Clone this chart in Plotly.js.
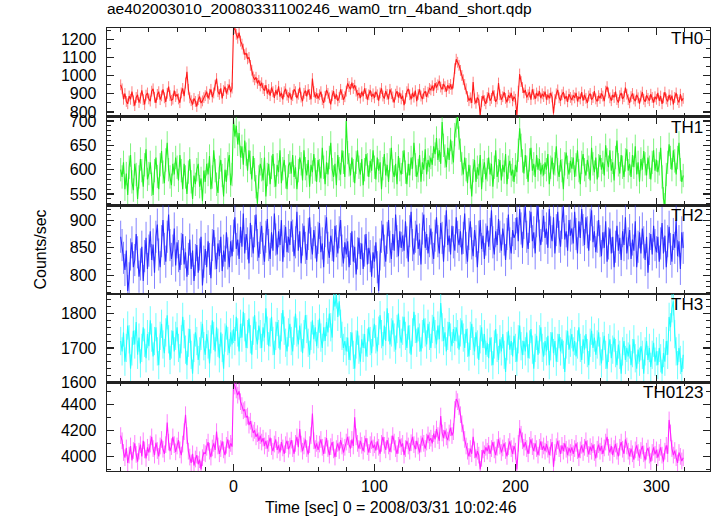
<!DOCTYPE html>
<html><head><meta charset="utf-8">
<script src="https://cdn.plot.ly/plotly-3.0.1.min.js"></script>
<style>html,body{margin:0;padding:0;background:#fff}</style>
</head><body><div id="chart" style="width:717px;height:516px"></div>
<script>
const timeSec = [
-80,-79,-78,-77,-76,-75,-74,-73,-72,-71,-70,-69,-68,-67,-66,-65,-64,-63,-62,-61,
-60,-59,-58,-57,-56,-55,-54,-53,-52,-51,-50,-49,-48,-47,-46,-45,-44,-43,-42,-41,
-40,-39,-38,-37,-36,-35,-34,-33,-32,-31,-30,-29,-28,-27,-26,-25,-24,-23,-22,-21,
-20,-19,-18,-17,-16,-15,-14,-13,-12,-11,-10,-9,-8,-7,-6,-5,-4,-3,-2,-1,
0,1,2,3,4,5,6,7,8,9,10,11,12,13,14,15,16,17,18,19,
20,21,22,23,24,25,26,27,28,29,30,31,32,33,34,35,36,37,38,39,
40,41,42,43,44,45,46,47,48,49,50,51,52,53,54,55,56,57,58,59,
60,61,62,63,64,65,66,67,68,69,70,71,72,73,74,75,76,77,78,79,
80,81,82,83,84,85,86,87,88,89,90,91,92,93,94,95,96,97,98,99,
100,101,102,103,104,105,106,107,108,109,110,111,112,113,114,115,116,117,118,119,
120,121,122,123,124,125,126,127,128,129,130,131,132,133,134,135,136,137,138,139,
140,141,142,143,144,145,146,147,148,149,150,151,152,153,154,155,156,157,158,159,
160,161,162,163,164,165,166,167,168,169,170,171,172,173,174,175,176,177,178,179,
180,181,182,183,184,185,186,187,188,189,190,191,192,193,194,195,196,197,198,199,
200,201,202,203,204,205,206,207,208,209,210,211,212,213,214,215,216,217,218,219,
220,221,222,223,224,225,226,227,228,229,230,231,232,233,234,235,236,237,238,239,
240,241,242,243,244,245,246,247,248,249,250,251,252,253,254,255,256,257,258,259,
260,261,262,263,264,265,266,267,268,269,270,271,272,273,274,275,276,277,278,279,
280,281,282,283,284,285,286,287,288,289,290,291,292,293,294,295,296,297,298,299,
300,301,302,303,304,305,306,307,308,309,310,311,312,313,314,315,316,317,318,319];

const th0 = [
950,928,870,902,858,845,888,870,912,861,835,880,895,852,876,920,868,841,893,905,
872,860,915,928,881,850,897,912,868,889,925,878,856,903,940,890,864,871,918,885,
898,872,851,905,930,887,960,1022,925,878,862,840,875,858,830,868,885,849,861,879,
890,912,875,898,925,882,905,948,985,912,897,930,875,918,940,902,925,951,910,932,
1255,1262,1230,1208,1240,1192,1176,1148,1118,1126,1094,1102,1058,1031,994,978,992,958,975,944,
962,930,918,948,901,925,890,935,912,878,920,896,942,885,906,870,912,928,893,880,
905,868,890,925,912,876,898,935,882,860,903,918,886,924,897,870,985,912,880,902,
874,895,912,868,850,886,921,903,878,842,890,915,872,897,861,880,925,896,868,884,
915,958,940,925,962,930,948,915,892,905,876,912,887,930,902,868,895,920,884,900,
878,912,895,862,905,930,888,874,916,897,870,925,901,883,852,898,915,880,906,872,
890,838,875,912,928,895,870,905,882,918,860,897,925,888,871,902,915,883,909,930,
922,945,918,960,935,950,972,938,925,955,940,912,948,930,952,925,960,1040,1092,1075,
1058,1030,1002,978,952,928,885,862,878,850,965,872,848,880,866,782,858,890,862,845,
880,905,862,875,918,890,856,872,960,895,868,884,910,875,853,892,878,905,861,884,
870,782,915,1010,968,935,905,922,880,895,910,868,925,898,872,905,888,915,876,900,
885,912,868,895,875,905,882,792,868,900,922,878,862,895,910,872,888,856,898,880,
866,892,878,905,858,884,872,910,862,895,875,850,888,902,868,880,915,872,858,890,
875,902,888,860,915,940,905,878,862,895,880,912,868,852,890,905,872,885,935,898,
868,850,885,902,872,860,895,878,846,888,910,870,856,892,875,862,898,880,852,884,
870,905,862,888,845,878,910,872,858,895,866,890,842,880,905,868,852,898,860,875];

const th1 = [
600,585,615,560,592,548,605,630,575,558,612,590,540,585,622,598,565,610,642,580,
592,615,570,548,598,625,586,560,610,638,595,572,620,655,600,585,568,612,590,625,
605,578,630,598,560,612,585,550,595,622,575,540,588,570,600,612,565,582,535,598,
575,612,590,628,560,585,640,598,570,552,605,620,588,545,600,575,612,630,568,590,
705,668,690,652,675,625,648,610,660,632,598,640,615,580,628,600,565,530,585,612,
600,578,625,545,590,612,570,605,632,588,565,610,595,640,572,602,620,585,560,608,
615,592,630,585,605,560,598,625,612,578,640,602,588,620,565,610,595,632,600,575,
620,598,582,645,605,570,615,590,625,655,600,585,612,568,630,602,590,640,615,585,
700,635,610,588,625,598,572,615,640,605,590,622,568,600,632,610,585,618,598,640,
605,580,625,598,615,560,602,632,588,610,575,620,645,598,585,612,570,628,600,590,
615,640,595,570,612,588,625,602,655,610,585,598,630,575,615,600,642,590,620,605,
625,610,648,632,665,620,640,612,698,650,628,605,645,620,662,635,615,672,690,708,
665,640,612,590,625,600,572,610,585,545,598,620,575,605,588,630,560,598,615,580,
600,625,590,612,565,605,640,585,598,620,578,610,595,632,570,605,618,588,600,575,
610,595,640,685,650,618,592,630,605,575,620,645,598,612,585,630,600,622,590,610,
588,615,600,632,570,605,625,590,612,648,600,585,620,598,560,612,635,605,590,618,
602,625,585,610,640,598,570,615,632,600,588,620,605,578,645,612,595,625,580,608,
630,600,615,588,650,620,605,640,598,615,578,625,660,610,592,630,605,585,620,642,
598,612,585,630,605,648,590,615,575,622,600,638,612,588,625,605,580,615,640,598,
620,595,612,645,585,540,528,590,615,652,625,600,640,618,590,625,655,600,575,588];

const th2 = [
870,855,832,810,845,772,795,838,860,815,828,875,842,798,820,852,790,835,868,812,
845,880,828,856,805,870,892,838,815,862,900,848,825,870,910,855,830,845,885,818,
860,835,810,848,875,820,842,798,830,865,812,845,790,828,855,805,838,870,782,825,
848,815,862,830,795,855,882,840,812,858,835,870,808,845,825,878,840,815,862,835,
872,905,848,865,830,888,852,912,840,875,858,822,895,862,840,880,910,855,832,868,
890,848,825,870,902,855,830,878,845,912,865,838,880,855,900,825,862,888,842,870,
855,898,872,835,860,915,845,880,822,865,890,850,828,875,905,858,838,882,860,825,
868,895,842,858,815,880,905,850,832,872,855,825,890,862,840,878,900,845,822,860,
838,862,815,848,880,825,852,802,840,868,830,858,812,845,875,820,850,835,798,842,
825,860,815,772,838,870,892,845,825,868,900,852,830,875,845,910,862,835,880,850,
872,845,898,860,825,880,915,855,838,870,892,848,865,820,885,910,850,875,840,862,
885,850,830,872,905,862,840,895,868,825,880,918,855,872,838,890,860,845,905,870,
855,880,838,868,912,850,825,875,898,858,835,882,862,815,870,900,848,872,830,865,
890,852,875,918,860,838,880,855,902,870,845,885,865,828,875,910,858,840,882,868,
875,905,862,920,885,850,895,925,870,848,888,915,862,878,840,898,925,872,855,890,
908,868,885,850,920,878,862,905,840,882,915,870,852,895,925,865,880,845,900,872,
885,858,915,875,840,898,868,920,882,855,905,878,845,892,918,860,880,842,870,900,
862,835,878,850,898,825,858,885,840,870,815,852,890,845,868,828,880,855,905,840,
858,882,830,865,845,898,815,852,878,840,885,860,828,870,805,848,875,838,890,855,
842,870,825,858,895,840,872,815,862,888,848,825,875,850,900,835,862,812,878,850];

const th3 = [
1720,1690,1745,1660,1700,1765,1725,1640,1690,1750,1710,1775,1680,1730,1655,1700,1760,1715,1670,1740,
1705,1780,1730,1675,1720,1760,1690,1650,1735,1770,1710,1685,1745,1795,1725,1665,1710,1750,1690,1735,
1760,1700,1670,1725,1790,1740,1695,1650,1715,1755,1680,1625,1700,1745,1720,1665,1690,1735,1770,1705,
1680,1740,1710,1655,1725,1780,1735,1690,1760,1715,1670,1745,1700,1640,1730,1765,1720,1685,1745,1710,
1755,1720,1790,1745,1690,1770,1730,1805,1760,1700,1740,1785,1725,1680,1750,1795,1735,1710,1765,1740,
1700,1760,1730,1815,1750,1705,1745,1790,1720,1680,1735,1775,1740,1695,1760,1810,1750,1715,1690,1745,
1770,1720,1690,1750,1800,1745,1710,1765,1730,1685,1740,1795,1755,1715,1680,1735,1780,1725,1760,1705,
1740,1785,1730,1700,1760,1720,1775,1745,1800,1760,1730,1850,1820,1855,1790,1835,1770,1735,1700,1720,
1690,1730,1665,1705,1745,1680,1640,1710,1750,1695,1660,1725,1700,1740,1675,1715,1760,1720,1685,1745,
1770,1725,1690,1750,1795,1740,1705,1765,1720,1815,1760,1710,1745,1780,1730,1695,1755,1800,1740,1715,
1750,1790,1735,1700,1765,1725,1680,1745,1805,1755,1715,1760,1730,1690,1740,1785,1745,1710,1770,1735,
1700,1755,1790,1740,1710,1765,1725,1830,1760,1720,1745,1690,1735,1775,1730,1705,1755,1720,1760,1740,
1695,1745,1780,1730,1700,1755,1715,1675,1735,1770,1720,1690,1745,1710,1665,1725,1760,1700,1740,1680,
1715,1670,1730,1690,1650,1710,1755,1700,1665,1725,1690,1740,1680,1630,1705,1750,1695,1720,1675,1735,
1700,1660,1725,1765,1705,1680,1720,1690,1745,1670,1710,1755,1695,1640,1700,1735,1680,1725,1760,1700,
1675,1720,1690,1735,1650,1705,1745,1685,1720,1660,1700,1740,1690,1725,1680,1630,1710,1750,1695,1715,
1740,1690,1720,1675,1710,1760,1700,1665,1725,1695,1740,1685,1650,1715,1750,1700,1730,1680,1710,1745,
1690,1655,1705,1735,1680,1640,1700,1725,1670,1695,1730,1685,1650,1710,1680,1625,1690,1720,1665,1700,
1675,1710,1650,1685,1725,1670,1640,1695,1660,1705,1680,1625,1690,1720,1665,1700,1645,1680,1715,1660,
1690,1650,1700,1670,1625,1685,1660,1720,1680,1790,1760,1815,1835,1740,1690,1650,1700,1665,1630,1680];

const th0123 = [
4160,4120,4030,3990,4065,3950,4010,4080,3970,4045,4100,4015,3960,4040,4090,4000,4120,4050,3985,4070,
4030,4095,4150,4060,4010,4105,4045,4000,4080,4130,4055,4020,4090,4260,4110,4040,4075,4150,4090,4035,
4080,4125,4050,4010,4095,4190,4320,4160,4040,3995,3950,4020,3930,3980,4010,3940,3975,3900,3990,4030,
4020,4070,4110,4040,3995,4065,4100,4050,4190,4080,4020,4060,4115,4050,4010,4085,4130,4060,4100,4075,
4565,4540,4510,4470,4500,4420,4390,4350,4360,4300,4310,4240,4270,4210,4180,4200,4150,4175,4120,4160,
4110,4140,4080,4120,4060,4100,4145,4075,4040,4095,4130,4050,4085,4030,4110,4065,4020,4090,4120,4055,
4080,4125,4060,4020,4100,4150,4070,4210,4095,4040,4080,4130,4060,4015,4090,4160,4330,4120,4060,4100,
4050,4095,4130,4070,4020,4085,4140,4060,4010,4075,4110,4050,3995,4060,4100,4045,4125,4080,4030,4070,
4110,4150,4090,4060,4130,4080,4300,4150,4100,4060,4120,4085,4040,4095,4140,4075,4030,4090,4120,4065,
4090,4045,4115,4070,4020,4100,4150,4085,4050,4125,4080,4035,4095,4160,4110,4060,4020,4085,4130,4075,
4100,4010,4060,4120,4080,4040,4105,4150,4090,4055,4120,4080,4030,4095,4145,4100,4060,4110,4165,4120,
4140,4100,4175,4130,4210,4160,4120,4310,4180,4140,4200,4150,4125,4180,4220,4160,4190,4360,4440,4420,
4380,4320,4250,4180,4130,4080,4040,4000,4060,4020,4150,4050,3990,4040,4010,3900,3985,4050,4020,4070,
4040,4085,4020,4060,4110,4050,4010,4070,4130,4080,4030,4065,4100,4045,4000,4075,4115,4060,4020,4080,
4040,3900,4100,4215,4170,4120,4070,4110,4060,4020,4085,4130,4075,4040,4100,4060,4010,4070,4115,4050,
4080,4040,4095,4055,4010,4070,4110,3920,4030,4075,4120,4060,4020,4085,4040,4100,4055,4010,4065,4030,
4070,4020,4060,4100,4045,3990,4050,4085,4030,4070,4120,4060,4015,4075,4040,4090,4030,3985,4055,4090,
4040,4080,4020,4065,4110,4150,4070,4030,4080,4010,4060,4095,4040,4000,4070,4110,4055,4020,4130,4080,
4040,4000,4060,4020,3975,4050,4085,4030,3990,4045,4080,4020,3970,4040,4065,4010,3960,4030,4070,4015,
4050,3990,4030,4070,4010,3960,4040,4085,4020,4280,4180,4060,4010,4045,3990,3950,4030,4000,3965,3990];

const bandNames = ['TH0', 'TH1', 'TH2', 'TH3', 'TH0123'];
const bandErrors = [30, 24, 29, 41, 64];
const xTickVals = [0, 100, 200, 300];
const xTickText = ['0', '100', '200', '300'];
const titleText = 'ae402003010_20080331100246_wam0_trn_4band_short.qdp';
const xTitleText = 'Time [sec] 0 = 2008/03/31 10:02:46';
const yTitleText = 'Counts/sec';

const series = [th0, th1, th2, th3, th0123];
const lineColors = ['#ff1a1a', '#22ee22', '#2a2aff', '#22ffff', '#ff22ff'];
const errColors = ['rgba(255,40,40,0.6)', 'rgba(40,235,40,0.6)', 'rgba(50,50,255,0.6)', 'rgba(30,255,255,0.65)', 'rgba(255,40,255,0.6)'];
const yRanges = [[774, 1265], [527, 709], [767, 927], [1600, 1857], [3888, 4568]];
const yDticks = [100, 50, 50, 100, 200];
const yMinor = [50, 10, 10, 20, 100];

const FONT = '"Liberation Sans", Arial, Helvetica, sans-serif';
const n = series.length;
const traces = [];
const layout = {
  width: 717, height: 516,
  margin: {l: 107, r: 7, t: 28, b: 45, pad: 0},
  paper_bgcolor: '#fff', plot_bgcolor: '#fff',
  showlegend: false,
  font: {family: FONT, size: 16, color: '#000'},
  title: {text: titleText, x: 107/717, xanchor: 'left', xref: 'container', y: 1, yref: 'container', yanchor: 'top', pad: {t: 3}, font: {family: FONT, size: 15.5, color: '#000'}},
  annotations: []
};
for (let k = 0; k < n; k++) {
  const sfx = k === 0 ? '' : String(k + 1);
  traces.push({
    x: timeSec, y: series[k], xaxis: 'x' + sfx, yaxis: 'y' + sfx,
    type: 'scatter', mode: 'lines',
    line: {color: lineColors[k], width: 1.1},
    error_y: {type: 'constant', value: bandErrors[k], color: errColors[k], thickness: 1, width: 0},
    hoverinfo: 'skip'
  });
  const top = 1 - k / n, bot = 1 - (k + 1) / n;
  layout['xaxis' + sfx] = {
    domain: [0, 1], anchor: 'y' + sfx, range: [-89.7, 338],
    matches: k === 0 ? undefined : 'x',
    showline: true, linecolor: '#222', linewidth: 1.3, mirror: 'allticks',
    ticks: 'inside', ticklen: 7, tickcolor: '#222', tickwidth: 1.2,
    tickmode: 'array', tickvals: xTickVals, ticktext: xTickText,
    showticklabels: k === n - 1,
    tickfont: {family: FONT, size: 16, color: '#000'},
    minor: {dtick: 20, tick0: 0, ticks: 'inside', ticklen: 4, tickcolor: '#222', tickwidth: 1, showgrid: false},
    showgrid: false, zeroline: false
  };
  layout['yaxis' + sfx] = {
    domain: [bot, top], anchor: 'x' + sfx, range: yRanges[k],
    showline: true, linecolor: '#222', linewidth: 1.3, mirror: 'allticks',
    ticks: 'inside', ticklen: 7, tickcolor: '#222', tickwidth: 1.2,
    dtick: yDticks[k], tick0: 0,
    tickfont: {family: FONT, size: 16, color: '#000'},
    ticklabelstandoff: 6,
    minor: {dtick: yMinor[k], tick0: 0, ticks: 'inside', ticklen: 4, tickcolor: '#222', tickwidth: 1, showgrid: false},
    showgrid: false, zeroline: false
  };
  layout.annotations.push({
    text: bandNames[k], xref: 'paper', yref: 'paper', x: 1, y: top,
    xanchor: 'right', yanchor: 'top', xshift: -5, yshift: 1, showarrow: false,
    font: {family: FONT, size: 17, color: '#000'}
  });
}
layout.annotations.push({
  text: xTitleText, xref: 'paper', yref: 'paper', x: (391 - 107) / 603, y: 0,
  xanchor: 'center', yanchor: 'top', yshift: -26, showarrow: false,
  font: {family: FONT, size: 16, color: '#000'}
});
layout.annotations.push({
  text: yTitleText, xref: 'paper', yref: 'paper', x: 0, y: 0.5, textangle: -90,
  xanchor: 'center', yanchor: 'middle', xshift: -67, showarrow: false,
  font: {family: FONT, size: 16, color: '#000'}
});
Plotly.newPlot('chart', traces, layout, {staticPlot: true, displayModeBar: false});
</script>
</body></html>
